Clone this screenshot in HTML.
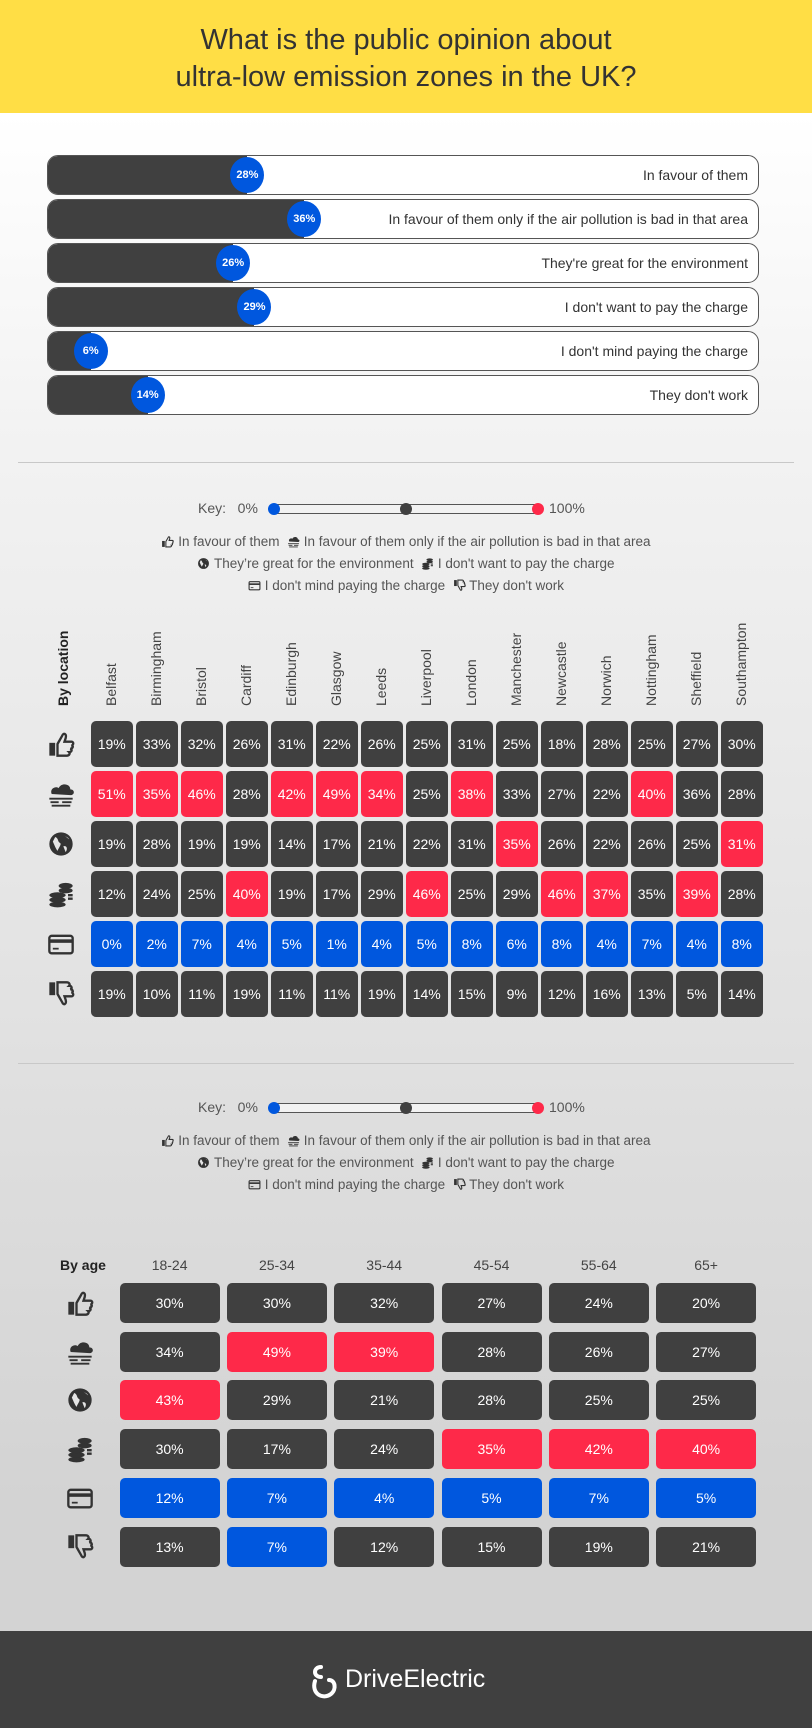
<!DOCTYPE html>
<html><head><meta charset="utf-8">
<style>
*{margin:0;padding:0;box-sizing:border-box}
body{width:812px;height:1728px;position:relative;overflow:hidden;font-family:"Liberation Sans",sans-serif;background:linear-gradient(#ffffff 113px,#f3f3f3 420px,#e2e2e2 1000px,#d3d3d3 1500px,#d3d3d3)}
.abs{position:absolute}
#header{left:0;top:0;width:812px;height:113px;background:#ffde45}
#title{left:0;top:22px;width:812px;text-align:center;font-size:29px;line-height:37px;color:#333}
.bar{position:absolute;left:47px;width:712px;height:40px;border:1.5px solid #555;border-radius:11px;background:#fff;overflow:visible}
.fill{position:absolute;left:0;top:0;height:100%;background:#404040;border-radius:10px 0 0 10px}
.dot{position:absolute;top:1px;width:34px;height:36px;border-radius:50%;background:#0057de;color:#fff;font-size:11px;font-weight:bold;text-align:center;line-height:36px;margin-left:-17px}
.blabel{position:absolute;right:10px;top:0;line-height:38px;font-size:14px;color:#333}
.sep{left:18px;width:776px;height:1px;background:#c8c8c8}
.key{font-size:14px;color:#555}
.slider{height:10px;border:1.5px solid #555;border-radius:5px;background:#f2f2f2}
.kd{width:12px;height:12px;border-radius:50%}
.leg{left:0;width:812px;text-align:center;font-size:13.5px;color:#555}
.cell{position:absolute;border-radius:5px;color:#fff;text-align:center;font-size:14px}
.colh{position:absolute;transform-origin:0 0;transform:rotate(-90deg);font-size:14px;color:#444;white-space:nowrap}
.ic{position:absolute}
#footer{left:0;top:1631px;width:812px;height:97px;background:#404040}
</style></head><body>
<div id="header" class="abs"></div>
<div id="title" class="abs">What is the public opinion about<br>ultra-low emission zones in the UK?</div>
<div id="bars"></div>
<div class="abs sep" style="top:462px"></div>
<div id="key1"></div>
<div id="loc"></div>
<div class="abs sep" style="top:1063px"></div>
<div id="key2"></div>
<div id="age"></div>
<div id="footer" class="abs">
  <svg class="abs" style="left:309px;top:33px" width="30" height="36" viewBox="0 0 30 36"><path d="M12 3 C4 3 4 13 12 13 M6 17 C2 30 14 36 22 30 C28 25 26 16 20 16" stroke="#fff" stroke-width="4" fill="none" stroke-linecap="round"/></svg>
  <div class="abs" style="left:345px;top:34px;font-size:25px;color:#fff">DriveElectric</div>
</div>
<script>
const barLabels=["In favour of them","In favour of them only if the air pollution is bad in that area","They're great for the environment","I don't want to pay the charge","I don't mind paying the charge","They don't work"];
const barValues=[28,36,26,29,6,14];
const locCities=["Belfast","Birmingham","Bristol","Cardiff","Edinburgh","Glasgow","Leeds","Liverpool","London","Manchester","Newcastle","Norwich","Nottingham","Sheffield","Southampton"];
const locValues=[
[19,33,32,26,31,22,26,25,31,25,18,28,25,27,30],
[51,35,46,28,42,49,34,25,38,33,27,22,40,36,28],
[19,28,19,19,14,17,21,22,31,35,26,22,26,25,31],
[12,24,25,40,19,17,29,46,25,29,46,37,35,39,28],
[0,2,7,4,5,1,4,5,8,6,8,4,7,4,8],
[19,10,11,19,11,11,19,14,15,9,12,16,13,5,14]];
const locColors=[
"ddddddddddddddd",
"rrrdrrrdrdddrdd",
"dddddddddrddddr",
"dddrdddrddrrdrd",
"bbbbbbbbbbbbbbb",
"ddddddddddddddd"];
const ageGroups=["18-24","25-34","35-44","45-54","55-64","65+"];
const ageValues=[[30,30,32,27,24,20],[34,49,39,28,26,27],[43,29,21,28,25,25],[30,17,24,35,42,40],[12,7,4,5,7,5],[13,7,12,15,19,21]];
const ageColors=["dddddd","drrddd","rddddd","dddrrr","bbbbbb","dbdddd"];
const COL={d:"#404040",r:"#fe2949",b:"#0057de"};
const rowNames=["in-favour","in-favour-if-polluted","great-for-environment","dont-want-to-pay","dont-mind-paying","dont-work"];

function icon(i,s){
  const c="#333";
  const p=[
   `<rect x="2" y="11" width="5" height="11" fill="${c}"/><path d="M9 12 L13 5 C14 2 17 3 16 7 L15 10 L21 10 C23 10 23 13 21 13 C23 14 22 16 20 16 C22 17 21 19 19 19 C20 20 19 22 17 22 L9 22 Z" fill="none" stroke="${c}" stroke-width="2"/>`,
   `<path d="M4 12 C2 7 8 5 10 7 C12 2 20 3 20 8 C24 8 24 13 20 13 Z" fill="${c}"/><path d="M2 16 H22 M3 19 H10 M13 19 H21 M4 22 H20" stroke="${c}" stroke-width="1.6"/>`,
   `<circle cx="12" cy="12" r="10" fill="${c}"/><path d="M7 6 C10 7 9 10 11 11 C13 12 10 15 9 18 C7 15 6 12 5 10 Z M14 14 C17 13 18 16 16 19 Z M14 4 C16 6 18 6 19 8 Z" fill="#e6e6e6"/>`,
   `<ellipse cx="9" cy="21" rx="7" ry="2.5" fill="${c}"/><ellipse cx="9" cy="17" rx="7" ry="2.5" fill="${c}"/><ellipse cx="9" cy="13" rx="7" ry="2.5" fill="${c}"/><ellipse cx="16" cy="9" rx="6" ry="2.5" fill="${c}"/><ellipse cx="16" cy="5" rx="6" ry="2.5" fill="${c}"/><path d="M18 13 h4 M18 16 h4" stroke="${c}" stroke-width="2"/>`,
   `<rect x="2" y="5" width="20" height="15" rx="2" fill="none" stroke="${c}" stroke-width="2"/><rect x="2" y="8" width="20" height="3" fill="${c}"/><path d="M5 16 h5" stroke="${c}" stroke-width="1.5"/>`,
   `<g transform="translate(0,24) scale(1,-1)"><rect x="2" y="11" width="5" height="11" fill="${c}"/><path d="M9 12 L13 5 C14 2 17 3 16 7 L15 10 L21 10 C23 10 23 13 21 13 C23 14 22 16 20 16 C22 17 21 19 19 19 C20 20 19 22 17 22 L9 22 Z" fill="none" stroke="${c}" stroke-width="2"/></g>`][i];
  return `<svg width="${s}" height="${s}" viewBox="0 0 24 24">${p}</svg>`;
}
function el(parent,cls,style,html){const d=document.createElement('div');d.className=cls;d.style.cssText=style;if(html!==undefined)d.innerHTML=html;parent.appendChild(d);return d;}

// overall bars
const bars=document.getElementById('bars');
const bx=v=>v/100*712;
barValues.forEach((v,i)=>{
  const b=el(bars,'bar',`top:${155+i*44}px`);
  
  
  const f=el(b,'fill',`width:${bx(v)}px`);
  
  
  const l=el(b,'blabel','',barLabels[i]);
  
  
  const d=el(b,'dot',`left:${bx(v)}px`,v+'%');
  
  
});

function keyBlock(id,top){
  const k=document.getElementById(id);
  let t=el(k,'abs key',`left:198px;top:${top-9}px`,'Key:&nbsp;&nbsp; 0%');
  
  
  let s=el(k,'abs slider',`left:270px;top:${top-5}px;width:270px`);
  
  
  [[268,'#0057de'],[400,'#404040'],[532,'#fe2949']].forEach(([x,c])=>{
    const d=el(k,'abs kd',`left:${x}px;top:${top-6}px;background:${c}`);
    
    
  });
  t=el(k,'abs key',`left:549px;top:${top-9}px`,'100%');
  
  
  const lines=[[[0,barLabels[0]],[1,barLabels[1]]],[[2,"They’re great for the environment"],[3,barLabels[3]]],[[4,barLabels[4]],[5,barLabels[5]]]];
  lines.forEach((ln,j)=>{
    const html=ln.map(([i,tx])=>`<span style="display:inline-block;vertical-align:-2px">${icon(i,13)}</span> ${tx}`).join('&nbsp; ');
    const d=el(k,'abs leg',`top:${top+25+j*22}px`,html);
    
    
  });
}
keyBlock('key1',509);
keyBlock('key2',1108);

// location heatmap
const loc=document.getElementById('loc');
const lx=i=>91+i*45, ly=r=>721+r*50;
let h=el(loc,'colh',`left:55px;top:706px;font-weight:bold;color:#222`,'By location');


locCities.forEach((c,i)=>{
  const d=el(loc,'colh',`left:${lx(i)+12}px;top:706px`,c);
  
  
});
locValues.forEach((row,r)=>{
  const ic=el(loc,'ic',`left:47px;top:${ly(r)+9}px`,icon(r,28));
  
  
  row.forEach((v,i)=>{
    const c=el(loc,'cell',`left:${lx(i)}px;top:${ly(r)}px;width:41.5px;height:46px;line-height:46px;background:${COL[locColors[r][i]]}`,v+'%');
    
    
  });
});

// age heatmap
const age=document.getElementById('age');
const ax=i=>119.6+i*107.3, ay=r=>1283+r*48.7;
h=el(age,'abs',`left:60px;top:1257px;font-size:14px;font-weight:bold;color:#222`,'By age');


ageGroups.forEach((g,i)=>{
  const d=el(age,'abs',`left:${ax(i)}px;top:1257px;width:100px;text-align:center;font-size:14px;color:#444`,g);
  
  
});
ageValues.forEach((row,r)=>{
  const ic=el(age,'ic',`left:66px;top:${ay(r)+6}px`,icon(r,28));
  
  
  row.forEach((v,i)=>{
    const c=el(age,'cell',`left:${ax(i)}px;top:${ay(r)}px;width:100px;height:40px;line-height:40px;background:${COL[ageColors[r][i]]}`,v+'%');
    
    
  });
});
</script>
</body></html>
